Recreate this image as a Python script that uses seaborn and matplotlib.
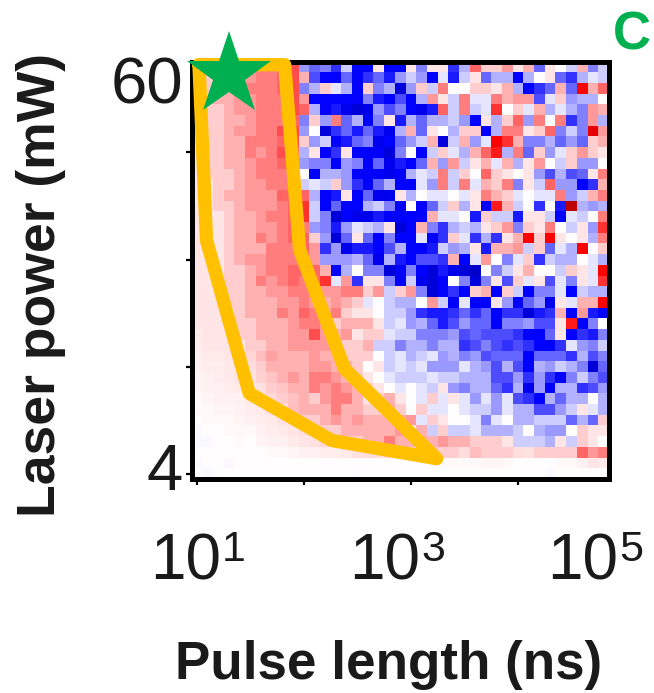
import numpy as np
import pandas as pd
import matplotlib.pyplot as plt
import seaborn as sns

# Signed signal per cell, one list per laser power step (top row = 60 mW)
r00 = [2,2,3,3,4,4,5,5,5,7,-4, -6,-5,-8,-2,-10,-10,1,-10,-10, 1,-5,1,1,-8,-3,6,2,2,4,1,3,-6,1,0,-2,3,-5,-2]
r01 = [2,2,3,3,4,4,5,5,6,7,3, -7,-10,-10,-6,-10,-8,-6,-9,-4, -2,-4,-10,-1,-9,-2,1,-6,-3,-3,-10,-3,0,1,-6,-8,-3,-1,-2]
r02 = [2,2,3,3,4,5,5,5,6,7,-5, -3,2,-1,-3,-10,2,-5,-3,-12, -4,2,-2,5,0,0,2,2,1,3,-3,-10,-8,-6,3,-6,10,3,6]
r03 = [2,2,3,3,4,4,5,5,5,7,4, -10,-10,-10,-10,-10,-5,-9,-10,-7, -10,-3,4,1,-2,5,-1,-1,5,3,4,4,-7,-1,2,-4,-3,-3,0]
r04 = [2,2,2,3,4,4,5,5,5,7,6, -3,-10,-9,-11,-12,-11,-4,-7,-5, -10,-11,-9,6,-2,5,-2,-1,8,0,2,-1,3,-3,-1,-3,-5,4,3]
r05 = [2,2,2,3,3,4,5,5,5,6,-5, 2,-4,5,-6,-3,-10,-5,1,-9, -3,-6,-3,-3,-2,-4,-10,1,-3,2,6,-4,5,0,5,-8,-5,4,-3]
r06 = [1,2,2,3,4,4,5,5,7,7,-4, 0,-12,-8,-6,-9,-6,-9,-11,-3, 3,-6,1,0,-3,2,2,-10,-3,5,5,1,2,6,-5,-2,-5,12,4]
r07 = [1,2,2,3,3,5,5,5,6,7,2, -4,-2,-10,-9,-6,-5,-11,-10,-6, -4,-2,3,-12,-2,3,-4,-1,10,8,3,-5,-5,-3,-6,-4,-6,2,3]
r08 = [1,2,2,3,3,5,4,5,7,6,-3, 1,-10,-8,1,-10,-10,-10,-12,-5, 0,-10,-2,2,-1,-3,3,6,9,-3,5,-6,2,-4,-1,2,4,2,1]
r09 = [1,2,2,3,3,4,5,5,6,6,-4, -5,-5,-10,-4,-5,-10,-6,-11,-9, -10,-6,3,-4,4,-2,1,3,-1,3,-3,1,4,0,-2,2,-4,-4,0]
r10 = [1,2,2,2,3,4,5,5,5,6,0, -10,-3,-3,-4,-10,-10,-10,-11,-10, -3,-1,-2,5,-2,2,0,6,2,1,0,1,-4,-7,-3,-7,-6,1,5]
r11 = [1,1,2,2,3,4,4,5,5,6,-2, -1,-2,2,-4,-8,-10,-6,-3,-10, -10,-1,-4,5,-2,5,-1,3,2,5,-5,1,-2,6,-4,-4,-10,-8,3]
r12 = [1,1,2,3,3,4,4,4,6,6,6, -3,-10,-9,1,-10,-6,-11,-11,1, -3,0,-1,-1,0,-1,1,5,3,2,-1,0,-1,-1,5,-4,-2,3,5]
r13 = [1,1,2,2,3,4,4,4,5,6,8, -2,-10,-6,-10,-10,-3,-2,-5,-10, 0,-10,-6,-2,2,-3,1,-10,9,3,-2,0,-8,0,-9,15,-3,-4,-3]
r14 = [1,1,1,2,3,3,4,5,5,6,8, -2,-5,-12,-10,-11,-11,-9,-10,-10, -10,-10,3,-1,-1,0,-9,2,-2,-2,-9,1,1,-2,-10,-1,-2,0,5]
r15 = [1,1,1,2,3,3,4,4,5,6,5, -4,-5,-9,-4,-1,-2,-3,1,-12, -10,3,-5,-8,-3,-2,-3,1,2,4,-5,2,1,5,0,-2,1,-4,8]
r16 = [1,1,1,2,3,3,5,4,5,6,6, 2,-4,-12,-6,1,-6,-10,-5,-10, -10,-1,-10,-8,2,-1,-8,-3,-8,1,3,10,2,10,1,0,1,-3,5]
r17 = [1,1,1,2,3,3,3,5,5,5,6, 4,-8,-4,-11,-9,-9,-10,-7,-3, -10,-10,-9,-2,-4,-3,1,-9,3,3,4,-2,2,-6,-1,-3,10,0,2]
r18 = [1,1,1,2,3,4,4,5,5,5,6, 4,-4,-4,-4,-3,-6,-11,-3,-9, -10,-7,-7,-8,3,-10,-1,4,0,-5,-1,2,-8,-2,-3,-3,0,-1,-3]
r19 = [1,1,1,2,2,3,4,5,5,6,6, 6,3,-10,-3,0,-5,-5,-12,-10, -5,-10,-12,-9,-11,-12,-13,0,-5,-2,1,3,0,0,-2,2,1,-1,10]
r20 = [1,1,1,2,2,3,5,4,5,6,5, 6,8,-1,4,-8,1,1,-5,-10, -2,-11,-12,-10,0,-5,-12,-5,1,-7,2,-1,1,-7,-1,-5,1,-1,8]
r21 = [1,1,1,2,2,3,3,4,4,5,5, 5,4,4,5,5,2,4,-2,2, 4,-5,-12,-10,-8,-10,2,3,-10,2,-2,-10,-5,-5,-1,-10,-2,-3,-3]
r22 = [1,1,1,2,2,3,3,3,4,4,5, 4,3,4,3,2,-1,0,-2,-3, -3,0,4,-2,-10,-1,-10,-10,1,-4,-10,-6,-4,-11,1,-1,3,3,10]
r23 = [1,1,1,1,2,3,3,3,5,4,6, 5,3,5,2,1,1,0,-2,-2, -4,-8,-9,-9,-8,-6,-8,-6,-10,-8,-8,-12,-9,-8,3,-10,4,-9,-10]
r24 = [1,1,1,1,2,2,3,3,3,4,5, 5,4,2,3,3,3,1,-2,-1, -4,-3,-6,-9,-7,-4,-6,-6,-10,-5,-5,-4,-7,-7,1,9,-10,-5,0]
r25 = [0.7,1,1,1,2,2,3,3,3,4,4, 7,4,3,4,1,2,2,-1,-2, -2,-5,-5,-5,-4,-7,-6,-7,-7,-7,-8,-10,-10,-6,1,-10,-8,-9,-5]
r26 = [0.7,1,1,1,1,2,2,3,3,4,4, 4,4,3,2,2,3,-2,-2,-5, -3,-3,-5,-3,-3,-8,-7,-5,-7,-8,-7,-8,-10,-10,-8,-1,-4,-5,-2]
r27 = [0.6,0.8,0.8,1,1.2,1.6,2.6,3.6,3,3,3, 4,3,3,2,2,2,0,-2,-1, -3,-2,-1,-4,-3,-5,-4,-7,-6,-6,-6,-10,-6,-6,-6,-8,-3,-7,-5]
r28 = [0.5,0.7,0.7,0.9,1,1.3,2,3,3,3,3, 4,4,3,3,2,0,1,-2,-1, -2,-1,-4,-4,-4,-1,-3,-4,-7,-3,-7,-10,-3,-4,-2,-3,-5,-12,-6]
r29 = [0.4,0.6,0.7,0.8,1,1.2,1.8,2.2,3,4,3, 5,5,4,3,2,1,0,-1,-2, -2,-2,-1,-2,-2,-3,-3,-3,-7,-7,-4,-8,-4,-8,-10,-5,-2,-5,-7]
r30 = [0.4,0.5,0.6,0.7,0.8,1,1.2,2,2.3,3,3, 5,4,5,4,3,2,1,0,-1, 0,-1,-2,1,-4,-5,-3,-3,-6,-8,-3,-11,-4,-10,-3,-3,-8,-7,-4]
r31 = [0.3,0.4,0.5,0.6,0.6,0.8,1.1,1.5,2,2.4,3, 2,4,5,5,3,1,2,3,1, 0,-1,2,-1,1,-1,-4,-1,-4,-1,-7,-8,-10,-3,-6,-3,-3,0,-3]
r32 = [0.2,0.3,0.4,0.4,0.5,0.7,0.9,1.1,1.4,2.5,3, 3,3,5,3,3,2,2,3,2, 0,2,-1,-1,0,-1,-2,-2,-4,-1,-3,-3,-7,-7,-4,-2,1,-1,-3]
r33 = [0,0.2,0.3,0.3,0.4,0.5,0.7,0.9,1.1,1.4,2, 2,3,4,3,4,3,3,3,3, 4,-1,2,1,0,0,-1,-5,-1,0,-3,-3,-2,-2,-2,-6,-3,-6,2]
r34 = [-0.3,0,0.1,0.2,0.3,0.3,0.6,0.7,0.9,1,1.4, 2,2,2,3,3,3,3,3,4, 1,3,-2,2,-2,-2,-1,-3,-3,-3,-2,0,-3,-4,-4,0,2,1,1]
r35 = [-0.3,-0.3,0,0.1,0.2,0,0.4,0.5,0.6,0.8,1, 1.1,1.6,2,2,2,3,3,5,3, 3,3,3,4,3,3,2,2,2,1,-2,-2,-2,-3,1,-2,2,1,0]
r36 = [0,0,0,0,0,0,0.1,0.2,0.3,0.4,0.5, 0.6,0.7,0.7,0.9,1.2,1.3,1.4,1.6,1.6, 2,2,2.4,2,2,1.4,2.6,2,2,2,1.4,1.2,2,2,2,2,6,4,5]
r37 = [-0.2,0,0,-0.2,0,0,0,0,0,0,0, 0.1,0.1,0.1,0.1,0.1,0.1,0.1,0.1,0.1, 0.1,0.1,0.1,0.2,0.2,0.2,0.3,0.4,0.4,0.2,0.1,0.1,0.1,0.1,0.2,0.2,0.5,1,0.9]
r38 = [-0.1,-0.2,-0.1,0,0,0,0,0,0,0,0, 0,0,0,0,-0.1,0,0,0,0, 0,0,0,0,0,0,0,0,0,0,0,0,0,-0.2,0,0,0,0,0]

rows = [r00, r01, r02, r03, r04, r05, r06, r07, r08, r09, r10, r11, r12,
        r13, r14, r15, r16, r17, r18, r19, r20, r21, r22, r23, r24, r25,
        r26, r27, r28, r29, r30, r31, r32, r33, r34, r35, r36, r37, r38]

# Window outline and optimum, in heatmap cell units
outline_x = [0.7, 8.7, 10.1, 14.3, 22.9, 13.1, 5.4, 1.4, 0.7]
outline_y = [0.3, 0.3, 17.6, 28.7, 37.1, 35.4, 31.0, 16.7, 0.3]
star_x = [3.5]
star_y = [1.3]

x_ticks = [0.5, 10.5, 20.5, 30.5]
y_ticks = [8.5, 18.5, 28.5, 38.5]

W, H = 654, 693
TEXT = '#1a1a1a'
GREEN = '#00B050'
ORANGE = '#FFC000'

sns.set_theme(style='white')
plt.rcParams['font.family'] = ['Liberation Sans', 'DejaVu Sans']

fig = plt.figure(figsize=(W / 100, H / 100), dpi=100)
ax = fig.add_axes([191.5 / W, 1 - 479 / H, 417.5 / W, 417.5 / H])

df = pd.DataFrame(rows)
sns.heatmap(df, cmap='seismic', vmin=-20, vmax=20, cbar=False, ax=ax,
            xticklabels=False, yticklabels=False)

for spine in ax.spines.values():
    spine.set_visible(True)
    spine.set_color('black')
    spine.set_linewidth(3.6)

ax.set_xticks(x_ticks)
ax.set_yticks(y_ticks)
ax.tick_params(length=4.3, width=1.6, color='black', bottom=True, left=True,
               labelbottom=False, labelleft=False)

ax.plot(outline_x, outline_y, color=ORANGE, lw=9.6, clip_on=False, zorder=5,
        solid_joinstyle='round', solid_capstyle='round')
ax.plot(star_x, star_y, marker='*', ms=63, color=GREEN, mew=0, clip_on=False, zorder=6)


def px_text(x, y, s, **kw):
    # x, y are pixels from the top left of the figure
    fig.text(x / W, 1 - y / H, s, **kw)


px_text(111, 104, '60', fontsize=47, color=TEXT)
px_text(146, 490, '4', fontsize=47, color=TEXT)
for x0, power in zip([150, 349, 547], ['1', '3', '5']):
    px_text(x0, 579, '10', fontsize=46, color=TEXT)
    px_text(x0 + 72, 561, power, fontsize=31, color=TEXT)

px_text(389, 665, 'Pulse length (ns)', fontsize=38.2, fontweight='bold', color=TEXT,
        ha='center', va='center')
px_text(41, 285, 'Laser power (mW)', fontsize=38.5, fontweight='bold', color=TEXT,
        rotation=90, ha='center', va='center')
px_text(613, 50, 'C', fontsize=38, fontweight='bold', color=GREEN)

fig.savefig('out.png', dpi=100)
